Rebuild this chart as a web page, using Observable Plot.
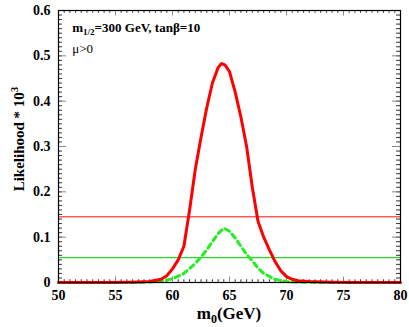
<!DOCTYPE html>
<html><head><meta charset="utf-8">
<script src="https://cdn.jsdelivr.net/npm/d3@7"></script>
<script src="https://cdn.jsdelivr.net/npm/@observablehq/plot@0.6"></script>
<style>body{margin:0;background:#fff} svg, svg text{font-family:"Liberation Serif","Times New Roman","DejaVu Serif",serif !important}</style>
</head><body><div id="chart"></div>
<script>
const redX = [50,52,54,56,57,58,59,59.5,60,60.5,61,61.5,62,62.5,63,63.5,64,64.3,64.6,65,65.5,66,66.5,67,67.5,68,68.5,69,69.5,70,70.5,71,72,74,76,78,80];
const redY = [0,0,0,0.0005,0.001,0.002,0.007,0.015,0.03,0.05,0.08,0.16,0.25,0.32,0.385,0.44,0.474,0.483,0.48,0.465,0.42,0.365,0.30,0.21,0.135,0.10,0.072,0.046,0.026,0.013,0.007,0.004,0.002,0.0005,0,0,0];
const greenX = [50,54,56,57,58,59,60,61,62,62.5,63,63.5,64,64.5,65,65.5,66,66.5,67,67.5,68,69,70,71,72,74,80];
const greenY = [0,0,0,0.0003,0.001,0.003,0.008,0.02,0.042,0.056,0.072,0.09,0.108,0.12,0.113,0.098,0.08,0.062,0.048,0.032,0.02,0.007,0.002,0.0008,0.0003,0,0];
const redLevel = 0.145;
const greenLevel = 0.055;
const xTicks = [50,55,60,65,70,75,80];
const yTicks = [0,0.1,0.2,0.3,0.4,0.5,0.6];
const yTickLabels = ["0","0.1","0.2","0.3","0.4","0.5","0.6"];

const red = redX.map((x,i)=>({x, y:redY[i]}));
const green = greenX.map((x,i)=>({x, y:greenY[i]}));
const xMinor = d3.range(50, 80.01, 0.5);
const yMinor = d3.range(0, 0.6001, 0.01);
const FONT = "'Liberation Serif', 'Times New Roman', 'DejaVu Serif', serif";

const plot = Plot.plot({
  width: 409, height: 327,
  marginLeft: 58, marginRight: 9, marginTop: 10, marginBottom: 45,
  x: {domain: [50, 80], ticks: xTicks, tickFormat: d => d},
  y: {domain: [0, 0.6], ticks: yTicks, tickFormat: (d,i) => yTickLabels[i]},
  style: `font-family: ${FONT};`,
  marks: [
    Plot.ruleX(xMinor, {x: d=>d, y1: 0, y2: 0.006, stroke: "#333", strokeWidth: 1}),
    Plot.ruleX(xMinor, {x: d=>d, y1: 0.6, y2: 0.594, stroke: "#333", strokeWidth: 1}),
    Plot.ruleY(yMinor, {y: d=>d, x1: 50, x2: 50.35, stroke: "#333", strokeWidth: 1}),
    Plot.ruleY(yMinor, {y: d=>d, x1: 80, x2: 79.65, stroke: "#333", strokeWidth: 1}),
    Plot.ruleX(xTicks, {x: d=>d, y1: 0, y2: 0.012, stroke: "#888", strokeWidth: 1}),
    Plot.ruleX(xTicks, {x: d=>d, y1: 0.6, y2: 0.588, stroke: "#888", strokeWidth: 1}),
    Plot.ruleY(yTicks, {y: d=>d, x1: 50, x2: 50.7, stroke: "#888", strokeWidth: 1}),
    Plot.ruleY(yTicks, {y: d=>d, x1: 80, x2: 79.3, stroke: "#888", strokeWidth: 1}),
    Plot.ruleY([redLevel], {stroke: "#ff5a5a", strokeWidth: 1.3}),
    Plot.ruleY([greenLevel], {stroke: "#22dd22", strokeWidth: 1.3}),
    Plot.line(green, {x: "x", y: "y", stroke: "#22ee22", strokeWidth: 3, strokeDasharray: "5,4"}),
    Plot.line(red, {x: "x", y: "y", stroke: "#ff0000", strokeWidth: 3, curve: "linear"}),
    Plot.axisX({ticks: xTicks, tickSize: 0, tickPadding: 8, fontSize: 14, fontWeight: "bold", label: null}),
    Plot.axisY({ticks: yTicks, tickSize: 0, tickPadding: 8, fontSize: 14, fontWeight: "bold", label: null, tickFormat: (d,i)=>yTickLabels[i]}),
    Plot.frame({stroke: "#000", strokeWidth: 1.2})
  ]
});
document.getElementById("chart").appendChild(plot);

const svg = d3.select(plot);
const sx = plot.scale("x"), sy = plot.scale("y");
const xl = svg.append("text").attr("x", sx.apply(65)).attr("y", 319)
  .attr("text-anchor", "middle").attr("font-size", 17).attr("font-weight", "bold").attr("font-family", FONT);
xl.append("tspan").text("m");
xl.append("tspan").attr("font-size", 12).attr("dy", 4).text("0");
xl.append("tspan").attr("dy", -4).text("(GeV)");
const yl = svg.append("text").attr("transform", `translate(24,${sy.apply(0.3)-7}) rotate(-90)`)
  .attr("text-anchor", "middle").attr("font-size", 15).attr("font-weight", "bold").attr("font-family", FONT);
yl.append("tspan").text("Likelihood * 10");
yl.append("tspan").attr("font-size", 11).attr("dy", -6).text("3");
const t1 = svg.append("text").attr("x", sx.apply(51.25)).attr("y", 32).attr("text-anchor", "start")
  .attr("font-size", 13).attr("font-weight", "bold").attr("font-family", FONT);
t1.append("tspan").text("m");
t1.append("tspan").attr("font-size", 9).attr("dy", 3).text("1/2");
t1.append("tspan").attr("dy", -3).text("=300 GeV, tanβ=10");
svg.append("text").attr("x", sx.apply(51.25)).attr("y", 53).attr("text-anchor", "start")
  .attr("font-size", 13).attr("font-family", FONT).text("μ>0");
</script></body></html>
